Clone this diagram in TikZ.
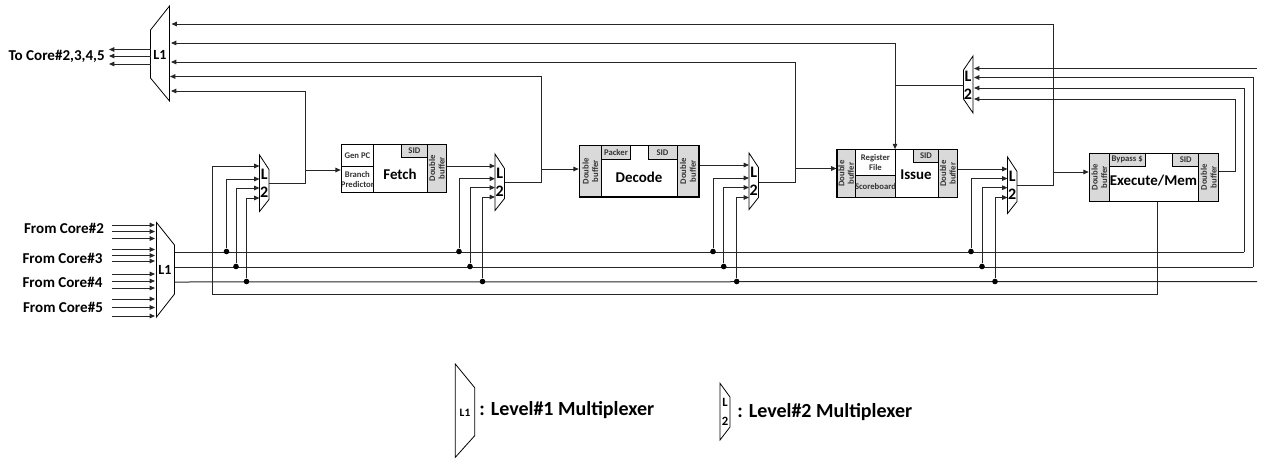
\documentclass[tikz,border=0pt]{standalone}
\usepackage{fontspec}
\setmainfont{Carlito}
\usepackage{tikz}
\usetikzlibrary{arrows.meta,calc}
\definecolor{bufgray}{HTML}{D9D9D9}
\definecolor{wirecol}{HTML}{262626}
\tikzset{
  wire/.style={draw=wirecol, line width=0.75pt},
  feed/.style={wire, -{Stealth[length=4pt,width=3.4pt,inset=0pt]}},
  muxline/.style={draw=black, line width=0.6pt, fill=white},
  cell/.style={draw=black, line width=0.75pt},
  graycell/.style={cell, fill=bufgray},
  frame/.style={draw=black, line width=0.8pt, inner sep=0pt},
  title/.style={font=\bfseries\fontsize{11.2}{12}\selectfont, inner sep=0pt},
  tiny/.style={font=\bfseries\fontsize{6.5}{7.2}\selectfont, inner sep=0pt, align=center, text=black!80},
  bufftext/.style={tiny, rotate=90},
  corelabel/.style={font=\bfseries\fontsize{11.3}{11.3}\selectfont, inner sep=0pt},
  muxlabel/.style={font=\bfseries\fontsize{12}{12}\selectfont, inner sep=0pt},
  legendtext/.style={font=\bfseries\fontsize{15}{15}\selectfont, inner sep=0pt, anchor=west},
  dot/.style={circle, fill=black, inner sep=0pt, minimum size=4.2pt}
}
\begin{document}
\begin{tikzpicture}[x=0.75pt,y=-0.75pt]
  \useasboundingbox (0,0) rectangle (1261,458);

  % Level 1 muxes
  \draw[muxline] (169.5,6) -- (150.5,30) -- (150.5,78) -- (169.5,101) -- cycle;
  \node[muxlabel, font=\bfseries\fontsize{10.5}{10.5}\selectfont] (muxout) at (160,55) {L1};
  \draw[muxline] (156.5,222.5) -- (174.5,245) -- (174.5,294) -- (156.5,317) -- cycle;
  \node[muxlabel, font=\bfseries\fontsize{10.5}{10.5}\selectfont] (muxin) at (165,270) {L1};

  % Level 2 muxes
  \foreach \m/\xl/\ytop in {F/259.5/155, D/495/154, I/749/153, E/1007.5/157} {
    \draw[muxline] (\xl,\ytop) -- (\xl+9.5,\ytop+14.5) -- (\xl+9.5,\ytop+44.5) -- (\xl,\ytop+56.5) -- cycle;
    \node[muxlabel] (mux\m top) at (\xl+4.7,\ytop+19.5) {L};
    \node[muxlabel] (mux\m bot) at (\xl+4.7,\ytop+37.5) {2};
  }
  \draw[muxline] (973,56) -- (963.5,70) -- (963.5,99) -- (973,113) -- cycle;
  \node[muxlabel] (muxRtop) at (968,76.5) {L};
  \node[muxlabel] (muxRbot) at (968,94.5) {2};

  % Core labels and their wires
  \node[corelabel, anchor=east] (tocore) at (105,56) {To Core\#2,3,4,5};
  \node[corelabel] (core2) at (64,228.5) {From Core\#2};
  \node[corelabel] (core3) at (62.5,258.5) {From Core\#3};
  \node[corelabel] (core4) at (62.5,282.5) {From Core\#4};
  \node[corelabel] (core5) at (63,307.5) {From Core\#5};
  \foreach \y in {49.5,56,64}
    \draw[feed] (150.5,\y) -- (109,\y);
  \foreach \y in {225,231.5,238.5,249.5,255.5,261,274,281,288,299,307.5,316}
    \draw[feed] (112,\y) -- (155,\y);

  % Fetch
  \draw[cell] (341.3,144.3) rectangle (373.5,166.5) node[midway, tiny] (genpc) {Gen PC};
  \draw[cell] (341.3,166.5) rectangle (373.5,192.3) node[midway, tiny] (branch) {Branch\\Predictor};
  \draw[graycell] (401.7,144.3) rectangle (427,157) node[midway, tiny] (fetchsid) {SID};
  \draw[graycell] (427,144.3) rectangle (446.7,192.3) node[midway, bufftext] (fetchbuf) {Double\\buffer};
  \node[frame, minimum width=79.05pt, minimum height=36pt] (fetch) at (394,168.3) {};
  \node[title] (fetchname) at (400,174.5) {Fetch};

  % Decode
  \draw[graycell] (579.3,145.7) rectangle (601.3,197) node[midway, bufftext] (decbufa) {Double\\buffer};
  \draw[graycell] (677,145.7) rectangle (699,197) node[midway, bufftext] (decbufb) {Double\\buffer};
  \draw[graycell] (601.3,145.7) rectangle (630.7,159.3) node[midway, tiny] (packer) {Packer};
  \draw[graycell] (648,145.7) rectangle (677,159.3) node[midway, tiny] (decsid) {SID};
  \node[frame, minimum width=89.8pt, minimum height=38.5pt] (decode) at (639.15,171.35) {};
  \node[title] (decname) at (639,177.5) {Decode};

  % Issue
  \draw[graycell] (837,149.7) rectangle (855.3,197.3) node[midway, bufftext] (issbufa) {Double\\buffer};
  \draw[graycell] (938.3,149.7) rectangle (957.3,197.3) node[midway, bufftext] (issbufb) {Double\\buffer};
  \draw[cell] (855.3,149.7) rectangle (895.7,175.3) node[midway, tiny] (regfile) {Register\\File};
  \draw[graycell] (855.3,175.3) rectangle (895.7,197.3) node[midway, tiny] (scoreboard) {Scoreboard};
  \draw[graycell] (913.7,149.7) rectangle (938.3,162.3) node[midway, tiny] (isssid) {SID};
  \node[frame, minimum width=90.2pt, minimum height=35.7pt] (issue) at (897.15,173.5) {};
  \node[title] (issname) at (916,174.5) {Issue};

  % Execute/Mem
  \draw[graycell] (1089.3,153.3) rectangle (1109.3,201.3) node[midway, bufftext] (exebufa) {Double\\buffer};
  \draw[graycell] (1198.7,153.3) rectangle (1218.7,201.3) node[midway, bufftext] (exebufb) {Double\\buffer};
  \draw[graycell] (1109.3,153.3) rectangle (1145,166.3) node[midway, tiny] (bypass) {Bypass \$};
  \draw[graycell] (1172.7,153.3) rectangle (1198.7,166.3) node[midway, tiny] (exesid) {SID};
  \node[frame, minimum width=97.05pt, minimum height=36pt] (exe) at (1154,177.3) {};
  \node[title] (exename) at (1153.5,180.5) {Execute/Mem};

  % Bus coordinates
  \coordinate (busaS) at (175,252);
  \coordinate (busbS) at (175,267);
  \coordinate (buscS) at (175,282);
  \coordinate (busaE) at (1244,252);
  \coordinate (busbE) at (1253,267);
  \coordinate (buscE) at (1257,281.5);
  \coordinate (loopL) at (212,294);
  \coordinate (topin) at (1257,68.5);

  % Buses
  \draw[wire] (busaS) -- (busaE);
  \draw[wire] (busbS) -- (busbE);
  \draw[wire] (buscS) -- (buscE);
  \draw[wire] (loopL) -| (exe.south -| 1157,0);

  % Dots and mux inputs
  \foreach \m/\xl/\xa/\xb/\xc/\ya/\yb/\yc in {
      F/259.5/226.5/236/246.5/179/188/198,
      D/495/459/470/482.5/178.7/187.6/197,
      I/749/713/723.7/736.7/178/187.5/197.5,
      E/1007.5/971/982/995/178.5/187.7/197.5} {
    \node[dot] (dot\m a) at (\xa,251.5) {};
    \node[dot] (dot\m b) at (\xb,266.5) {};
    \node[dot] (dot\m c) at (\xc,281.5) {};
    \coordinate (in\m a) at (\xl,\ya);
    \coordinate (in\m b) at (\xl,\yb);
    \coordinate (in\m c) at (\xl,\yc);
    \draw[feed] (dot\m a) |- (in\m a);
    \draw[feed] (dot\m b) |- (in\m b);
    \draw[feed] (dot\m c) |- (in\m c);
  }
  \coordinate (inFtop) at (259.5,166);
  \draw[feed] (loopL) |- (inFtop);
  \draw[feed] (fetch.east |- 0,166) -- (495,166);
  \draw[feed] (decode.east |- 0,165) -- (749,165);
  \draw[feed] (issue.east |- 0,169) -- (1007.5,169);

  % Mux outputs, feedback to the top L1 and next stage
  \coordinate (outF) at (269,183);
  \coordinate (outD) at (504.5,182);
  \coordinate (outI) at (758.5,182);
  \coordinate (outE) at (1017,185);
  \coordinate (outR) at (963.5,85);
  \draw[feed] (outF) -| (305,91) -- (171,91);
  \draw[feed] (outD) -| (541,76.5) -- (170,76.5);
  \draw[feed] (outI) -| (795,62) -- (171,62);
  \draw[feed] (outE) -| (1053,24) -- (171.5,24);
  \draw[feed] (305,170) -- (fetch.west |- 0,170);
  \draw[feed] (541,169) -- (decode.west |- 0,169);
  \draw[feed] (795,168.5) -- (issue.west |- 0,168.5);
  \draw[feed] (1053,172) -- (exe.west |- 0,172);

  % Level 1 input from top right mux and Issue branch
  \draw[wire] (outR) -- (895,85);
  \draw[feed] (895,43) -- (171,43);
  \draw[feed] (895,43) -- (issue.north -| 895,0);

  % Inputs of top right mux
  \draw[feed] (topin) -- (974,68.5);
  \draw[feed] (busbE) -- (1253,77.5) -- (974,77.5);
  \draw[feed] (busaE) -- (1244,88) -- (974,88);
  \draw[feed] (exe.east |- 0,171) -| (1235.5,99) -- (974,99);

  % Legend
  \draw[muxline] (455.3,364) -- (474.7,387.7) -- (474.7,435.7) -- (455.3,457.3) -- cycle;
  \node[muxlabel, font=\bfseries\fontsize{8.5}{8.5}\selectfont] (legendone) at (465,413) {L1};
  \node[legendtext] (legendonetext) at (479,410) {: Level\#1 Multiplexer};
  \draw[muxline] (720,383.3) -- (730,397) -- (730,427) -- (720,440) -- cycle;
  \node[muxlabel, font=\bfseries\fontsize{9.5}{9.5}\selectfont] (legendtwoa) at (725,402.5) {L};
  \node[muxlabel, font=\bfseries\fontsize{9.5}{9.5}\selectfont] (legendtwob) at (725,421) {2};
  \node[legendtext] (legendtwotext) at (737,412.5) {: Level\#2 Multiplexer};
\end{tikzpicture}
\end{document}
